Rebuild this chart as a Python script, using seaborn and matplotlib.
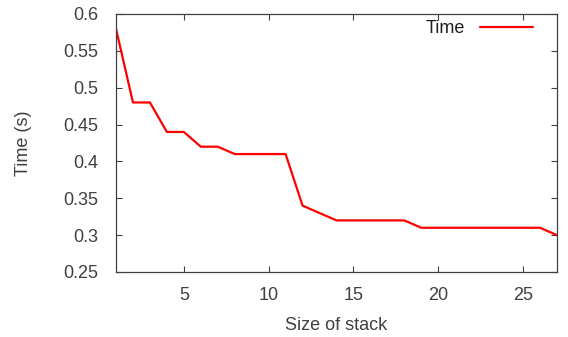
import matplotlib
matplotlib.use("Agg")
import matplotlib.pyplot as plt
import seaborn as sns
import pandas as pd

stack_size = list(range(1, 28))
time_s = [0.58, 0.48, 0.48, 0.44, 0.44, 0.42, 0.42, 0.41, 0.41, 0.41, 0.41,
          0.34, 0.33, 0.32, 0.32, 0.32, 0.32, 0.32, 0.31, 0.31, 0.31, 0.31,
          0.31, 0.31, 0.31, 0.31, 0.30]
x_ticks = [5, 10, 15, 20, 25]
y_ticks = [0.25, 0.3, 0.35, 0.4, 0.45, 0.5, 0.55, 0.6]
y_tick_labels = ["0.25", "0.3", "0.35", "0.4", "0.45", "0.5", "0.55", "0.6"]

df = pd.DataFrame({"Size of stack": stack_size, "Time": time_s})

sns.set_style("ticks")
plt.rcParams['font.family'] = ['Liberation Sans', 'DejaVu Sans']
txt = "#404040"
fs = 13

fig = plt.figure(figsize=(5.68, 3.37), dpi=100)
ax = fig.add_axes([116/568, 65/337, 441/568, 258/337])
sns.lineplot(data=df, x="Size of stack", y="Time", ax=ax, color="#ff0000",
             linewidth=1.6, label="Time")

ax.set_xlim(1, 27)
ax.set_ylim(0.25, 0.6)
ax.set_xticks(x_ticks)
ax.set_yticks(y_ticks)
ax.set_yticklabels(y_tick_labels)
ax.tick_params(direction="in", length=4, width=0.8, top=True, right=True,
               labelsize=fs, labelcolor=txt, color="#404040")
ax.tick_params(axis="x", pad=11)
ax.tick_params(axis="y", pad=13)
for s in ax.spines.values():
    s.set_color("#404040")
    s.set_linewidth(0.9)
ax.set_xlabel("Size of stack", fontsize=fs, color=txt, labelpad=9)
ax.set_ylabel("Time (s)", fontsize=fs, color=txt, labelpad=22)

leg = ax.legend(loc="upper right", frameon=False, markerfirst=False,
                handlelength=2.94, fontsize=fs, borderaxespad=0,
                handletextpad=0.83, bbox_to_anchor=(0.9615, 1.004))
for t in leg.get_texts():
    t.set_color("#202020")

fig.savefig("out.png", dpi=100)
